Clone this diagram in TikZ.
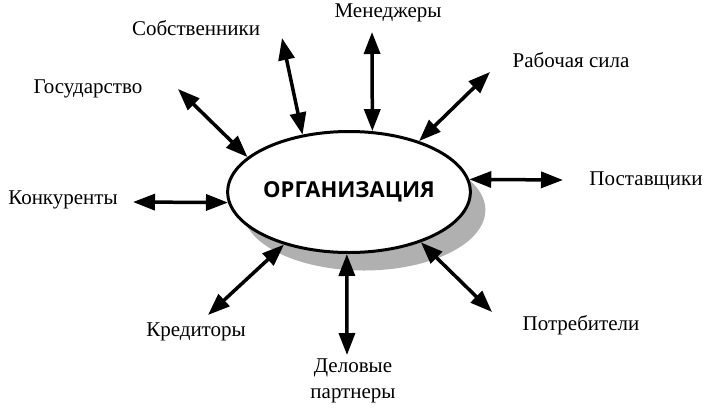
\documentclass[tikz,border=0pt]{standalone}
\usepackage{fontspec}
\setmainfont{Liberation Serif}
\newfontfamily\orgfont{Open Sans}
\usetikzlibrary{shapes.geometric, shadows, arrows.meta}
\definecolor{shadowgray}{RGB}{176,176,176}

\tikzset{
  org/.style={ellipse, draw, line width=3pt, fill=white, inner sep=0pt,
    minimum width=235pt, minimum height=121pt,
    font=\orgfont\bfseries\fontsize{22}{26}\selectfont,
    general shadow={fill=shadowgray, shadow xshift=15pt, shadow yshift=-18pt}},
  party/.style={font=\fontsize{21}{26}\selectfont, align=center, inner sep=0pt},
  link/.style={line width=3.5pt, {Triangle[length=22pt,width=16pt]}-{Triangle[length=22pt,width=16pt]}}
}

\begin{document}
\begin{tikzpicture}[x=1pt, y=-1pt]
\useasboundingbox (0,0) rectangle (708,407);

%draw organisation
\node [org] (org) at (349,192) {ОРГАНИЗАЦИЯ};

%draw parties
\node [party, anchor=base] (owners) at (196,35) {Собственники};
\node [party, anchor=base] (state) at (88,93) {Государство};
\node [party, anchor=base] (rivals) at (63,204) {Конкуренты};
\node [party, anchor=base] (managers) at (388,17) {Менеджеры};
\node [party, anchor=base] (labour) at (571,67) {Рабочая сила};
\node [party, anchor=base] (suppliers) at (646,185) {Поставщики};
\node [party, anchor=base] (creditors) at (196,336) {Кредиторы};
\node [party] (partners) at (353,381) {Деловые\\партнеры};
\node [party, anchor=base] (consumers) at (581,330) {Потребители};

%free ends of arrows
\coordinate (ownersEnd) at (282,38);
\coordinate (stateEnd) at (178,89);
\coordinate (rivalsEnd) at (133,202);
\coordinate (managersEnd) at (372,32);
\coordinate (labourEnd) at (490,72);
\coordinate (suppliersEnd) at (563,180);
\coordinate (creditorsEnd) at (208,315);
\coordinate (partnersEnd) at (347,355);
\coordinate (consumersEnd) at (492,312);

%draw arrows
\draw [link] (ownersEnd) -- (org.129);
\draw [link] (stateEnd) -- (org.161);
\draw [link] (rivalsEnd) -- (org.185);
\draw [link] (managersEnd) -- (org.69);
\draw [link] (labourEnd) -- (org.36);
\draw [link] (suppliersEnd) -- (org.6);
\draw [link] (creditorsEnd) -- (org.219);
\draw [link] (partnersEnd) -- (org.268);
\draw [link] (consumersEnd) -- (org.325);

\end{tikzpicture}
\end{document}
